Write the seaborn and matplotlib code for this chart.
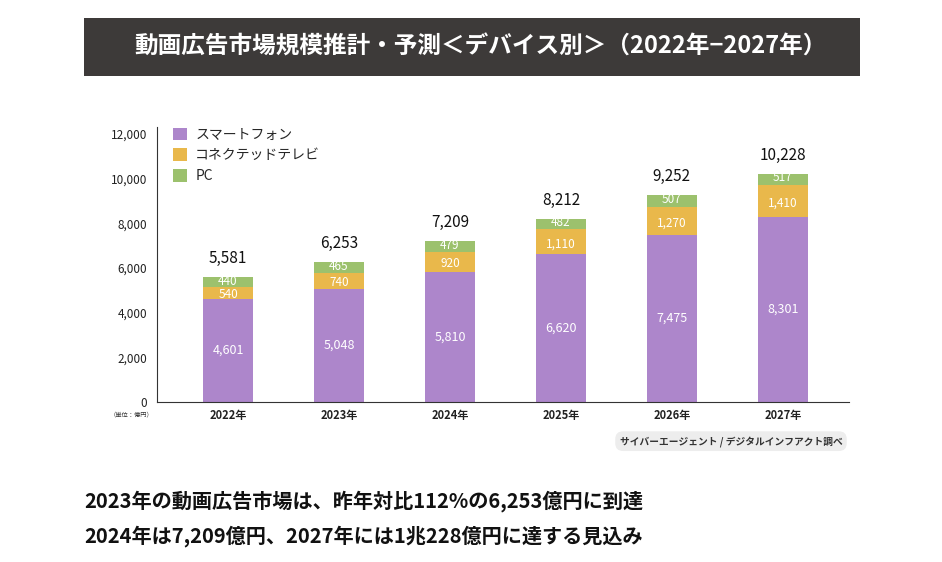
import matplotlib
matplotlib.use("Agg")
import matplotlib.pyplot as plt
import seaborn as sns
import numpy as np
import pandas as pd
from matplotlib.patches import Rectangle, Patch

sns.set_style("white")
plt.rcParams['font.family'] = ['Noto Sans CJK JP', 'DejaVu Sans']

years = ["2022年", "2023年", "2024年", "2025年", "2026年", "2027年"]
smartphone = [4601, 5048, 5810, 6620, 7475, 8301]
connected_tv = [540, 740, 920, 1110, 1270, 1410]
pc = [440, 465, 479, 482, 507, 517]
totals = [5581, 6253, 7209, 8212, 9252, 10228]

series_names = ["スマートフォン", "コネクテッドテレビ", "PC"]
colors = ["#ad86cb", "#e9b84b", "#9cc16d"]

title = "動画広告市場規模推計・予測＜デバイス別＞（2022年−2027年）"
source = "サイバーエージェント / デジタルインフアクト調べ"
notes = ["2023年の動画広告市場は、昨年対比112%の6,253億円に到達",
         "2024年は7,209億円、2027年には1兆228億円に達する見込み"]

df = pd.DataFrame({"year": years, "sp": smartphone, "tv": connected_tv, "pc": pc})
df["tv_top"] = df["sp"] + df["tv"]
df["pc_top"] = df["tv_top"] + df["pc"]

fig = plt.figure(figsize=(9.42, 5.62), dpi=100)

# title banner
fig.patches.append(Rectangle((0.0892, 0.865), 0.824, 0.103, transform=fig.transFigure,
                             facecolor="#3d3a39", edgecolor="none"))
fig.text(0.51, 0.917, title, color="white", fontsize=17, fontweight="bold",
         ha="center", va="center")

ax = fig.add_axes([0.1667, 0.2847, 0.735, 0.4769])

bw = 0.45
# stacked look: draw cumulative tops first, smaller ones over them
sns.barplot(data=df, x="year", y="pc_top", color=colors[2], width=bw, ax=ax,
            saturation=1, linewidth=0)
sns.barplot(data=df, x="year", y="tv_top", color=colors[1], width=bw, ax=ax,
            saturation=1, linewidth=0)
sns.barplot(data=df, x="year", y="sp", color=colors[0], width=bw, ax=ax,
            saturation=1, linewidth=0)

for i, row in df.iterrows():
    ax.text(i, row["sp"] / 2, f"{row['sp']:,}", color="white", fontsize=9,
            ha="center", va="center")
    ax.text(i, row["sp"] + row["tv"] * 0.42, f"{row['tv']:,}", color="white", fontsize=8.5,
            ha="center", va="center")
    ax.text(i, row["tv_top"] + row["pc"] * 0.62, f"{row['pc']:,}", color="white", fontsize=8.5,
            ha="center", va="center")
    ax.text(i, row["pc_top"] + 450, f"{totals[i]:,}", color="#111111", fontsize=11,
            ha="center", va="bottom")

ax.set_xlim(-0.64, 5.6)
ax.set_ylim(0, 12000)
ax.set_yticks(np.arange(0, 12001, 2000))
ax.set_yticklabels([f"{v:,}" for v in range(0, 12001, 2000)], fontsize=8.5, color="#222222")
ax.tick_params(axis="x", labelsize=8, colors="#222222", length=0, pad=5)
ax.tick_params(axis="y", length=0, pad=7)
for lab in ax.get_xticklabels():
    lab.set_fontweight("bold")
ax.set_xlabel("")
ax.set_ylabel("")
sns.despine(ax=ax)
ax.spines["left"].set_color("#333333")
ax.spines["bottom"].set_color("#333333")
ax.spines["left"].set_bounds(0, 12300)

fig.text(0.163, 0.262, "（単位：億円）", fontsize=4.5, color="#333333",
         ha="right", va="center")

handles = [Patch(facecolor=c, edgecolor="none") for c in colors]
ax.legend(handles, series_names, loc="upper left", bbox_to_anchor=(0.015, 1.045),
          frameon=False, fontsize=10, handlelength=1.0, handleheight=1.0,
          handletextpad=0.6, labelspacing=0.5, borderaxespad=0)

fig.text(0.776, 0.215, source, fontsize=7, fontweight="bold", color="#333333",
         ha="center", va="center",
         bbox=dict(boxstyle="round,pad=0.45,rounding_size=0.8", facecolor="#ededed",
                   edgecolor="none"))

fig.text(0.09, 0.108, notes[0], fontsize=14.5, fontweight="bold", color="#111111",
         ha="left", va="center")
fig.text(0.09, 0.046, notes[1], fontsize=14.5, fontweight="bold", color="#111111",
         ha="left", va="center")

fig.savefig("out.png", dpi=100)
